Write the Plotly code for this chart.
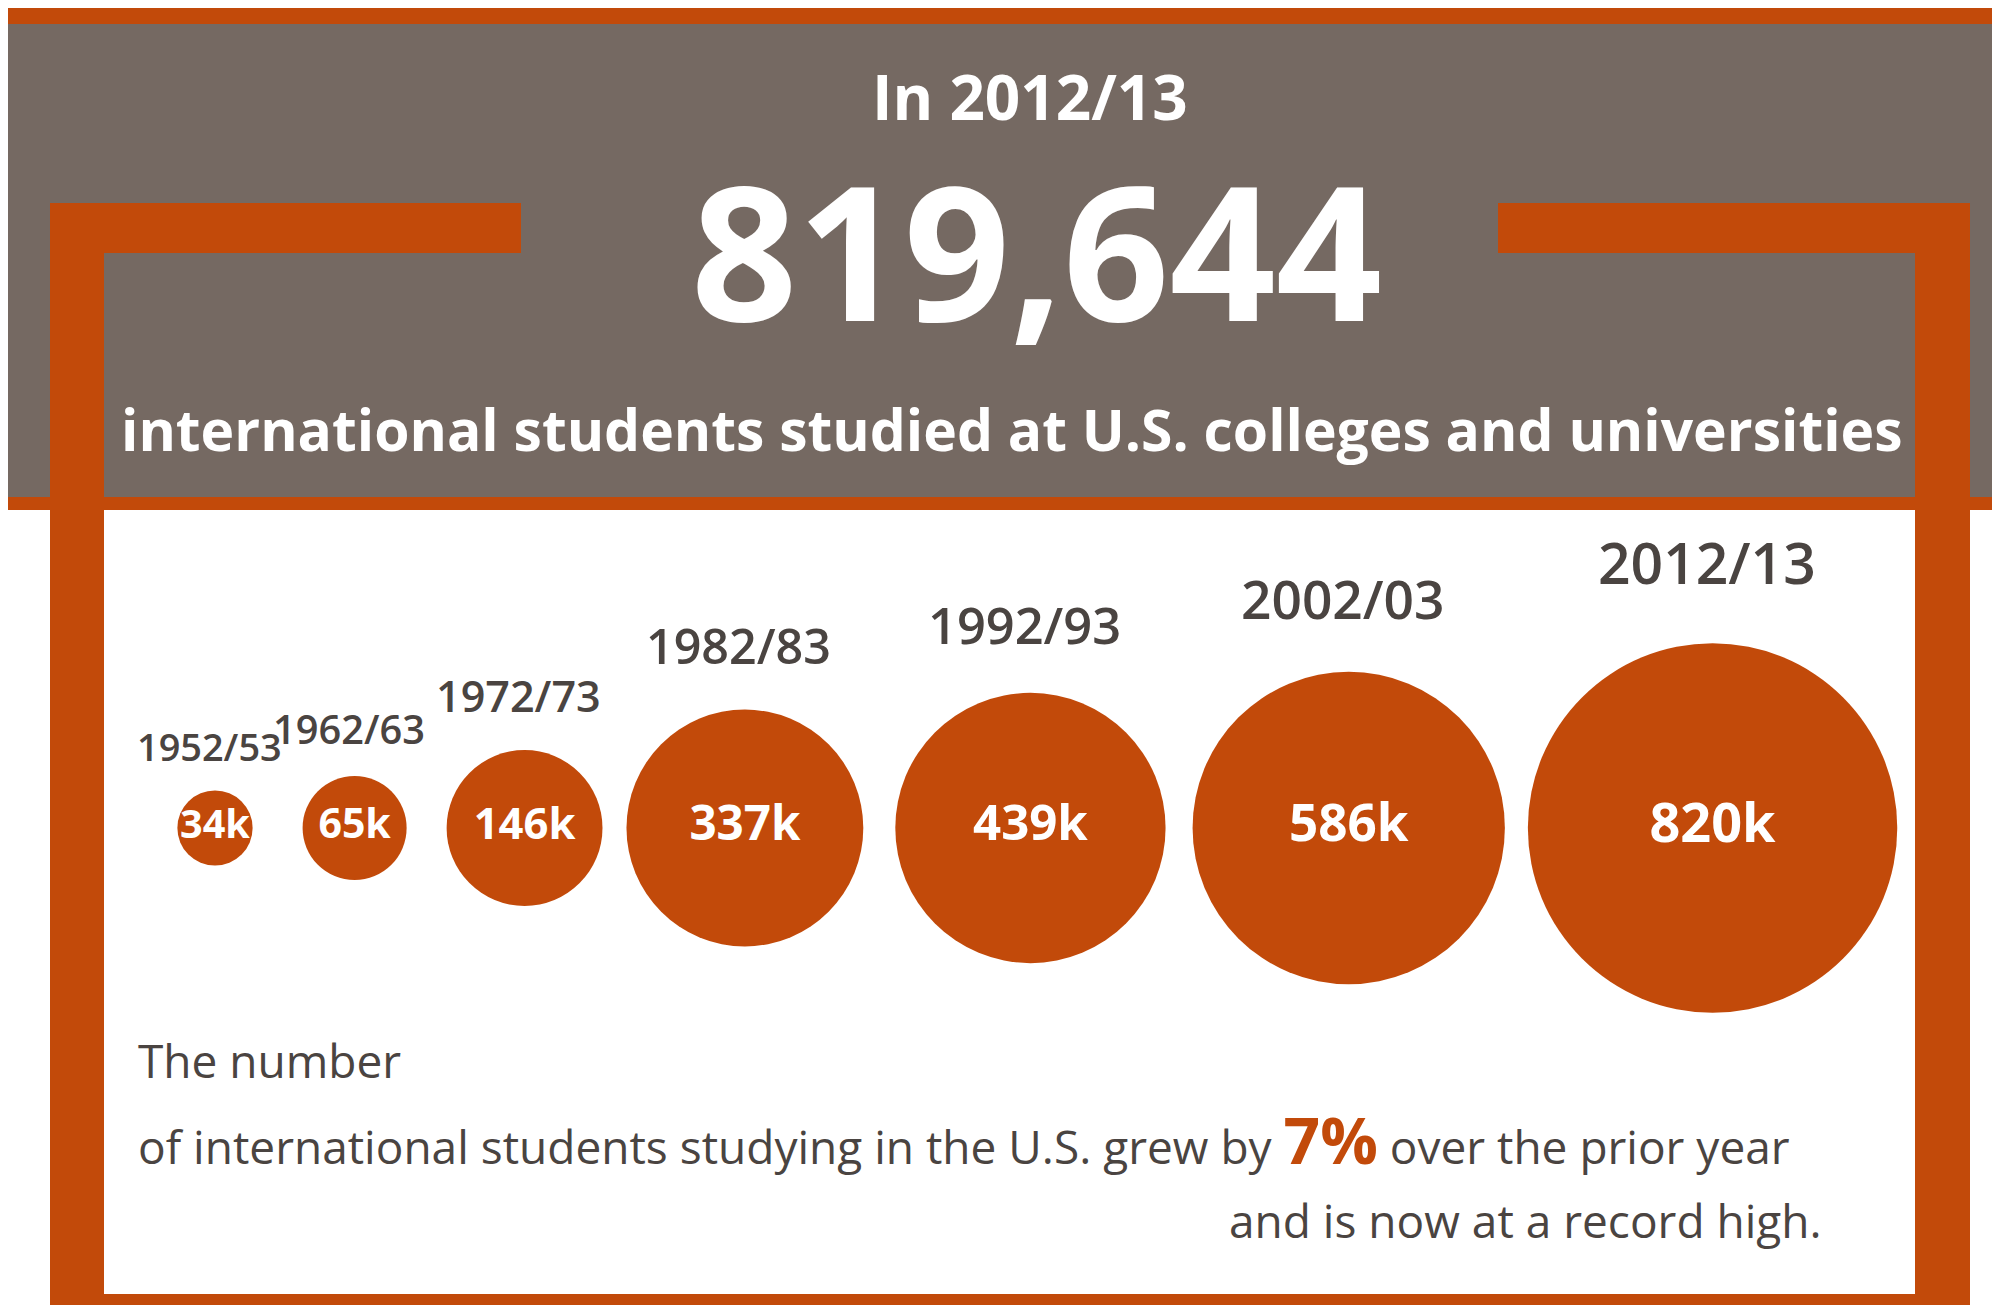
import numpy as np
import plotly.graph_objects as go

years = ['1952/53', '1962/63', '1972/73', '1982/83', '1992/93', '2002/03', '2012/13']
students_k = [34, 65, 146, 337, 439, 586, 820]
labels = [f'{v}k' for v in students_k]

ORANGE = '#c24a0a'
GRAY = '#756962'
FONT = 'Open Sans'
W, H = 2000, 1305

# bubble sizes: area proportional to value
diam = 12.9 * np.sqrt(students_k)
rad = diam / 2
cy = 820
gaps = [50, 40, 24, 32, 27, 23]  # space between neighbouring bubbles
xs = [207.0]
for i in range(1, len(students_k)):
    xs.append(xs[-1] + rad[i - 1] + rad[i] + gaps[i - 1])

fig = go.Figure()
fig.add_trace(go.Scatter(
    x=xs, y=[cy] * len(xs), mode='markers+text',
    marker=dict(size=diam, sizemode='diameter', color=ORANGE, line=dict(width=0), opacity=1),
    text=labels, textposition='middle center',
    textfont=dict(family=FONT, color='white', size=[36 + 18 * r / rad.max() for r in rad], weight=700),
    hoverinfo='skip', showlegend=False))

# year labels above bubbles
for x, r, yr in zip(xs, rad, years):
    fs = 33 + 24 * r / rad.max()
    fig.add_annotation(x=x - 6, y=cy - r - 10 - 30 * r / rad.max(), text=yr, showarrow=False,
                       yanchor='bottom', font=dict(family=FONT, size=fs, color='#4a4441', weight=600))

shapes = [
    dict(x0=0, x1=W, y0=0, y1=16, color=ORANGE),
    dict(x0=0, x1=W, y0=16, y1=489, color=GRAY),
    dict(x0=0, x1=W, y0=489, y1=502, color=ORANGE),
    dict(x0=42, x1=96, y0=195, y1=H, color=ORANGE),
    dict(x0=1907, x1=1962, y0=195, y1=H, color=ORANGE),
    dict(x0=42, x1=513, y0=195, y1=245, color=ORANGE),
    dict(x0=1490, x1=1962, y0=195, y1=245, color=ORANGE),
    dict(x0=42, x1=1962, y0=1286, y1=H, color=ORANGE),
]
for s in shapes:
    fig.add_shape(type='rect', xref='x', yref='y', x0=s['x0'], x1=s['x1'], y0=s['y0'], y1=s['y1'],
                  fillcolor=s['color'], line=dict(width=0), layer='below')

fig.add_annotation(x=1022, y=88, text='In 2012/13', showarrow=False,
                   font=dict(family=FONT, size=62, color='white', weight=700))
fig.add_annotation(x=1028, y=240, text='819,644', showarrow=False,
                   font=dict(family=FONT, size=186, color='white', weight=700))
fig.add_annotation(x=1004, y=421, text='international students studied at U.S. colleges and universities',
                   showarrow=False, font=dict(family=FONT, size=57, color='white', weight=700))

fig.add_annotation(x=128, y=1052, text='The number', showarrow=False, xanchor='left',
                   font=dict(family=FONT, size=46, color='#4a4441'))
fig.add_annotation(x=128, y=1131, xanchor='left', showarrow=False,
                   text=f'of international students studying in the U.S. grew by '
                        f'<span style="color:{ORANGE};font-size:64px;font-weight:700">7%</span> over the prior year',
                   font=dict(family=FONT, size=46, color='#4a4441'))
fig.add_annotation(x=1816, y=1212, xanchor='right', showarrow=False,
                   text='and is now at a record high.', font=dict(family=FONT, size=46, color='#4a4441'))

fig.update_xaxes(range=[0, W], visible=False, fixedrange=True)
fig.update_yaxes(range=[H, 0], visible=False, fixedrange=True)
fig.update_layout(width=W, height=H, margin=dict(l=0, r=0, t=0, b=0),
                  plot_bgcolor='white', paper_bgcolor='white')
fig.write_html('out.html')
